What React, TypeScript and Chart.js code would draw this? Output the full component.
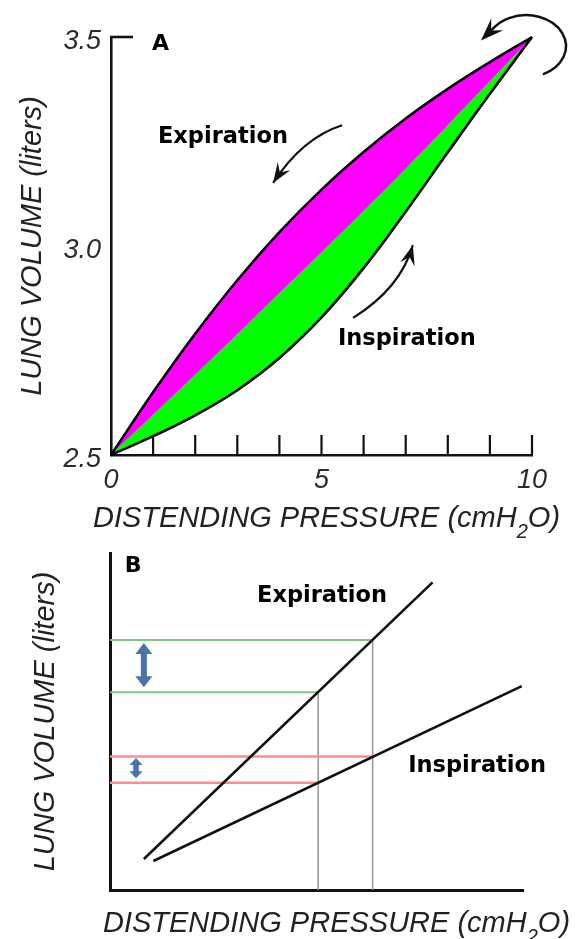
import React, { useEffect, useRef } from 'react';
import { Chart, registerables } from 'chart.js';

Chart.register(...registerables);

// ---------- Panel A data ----------
const pressureA = [0, 1, 2, 3, 4, 5, 6, 7, 8, 9, 10];
const expirationVolA = [2.5, 2.65, 2.79, 2.918, 3.033, 3.135, 3.225, 3.305, 3.376, 3.44, 3.5];
const boundaryVolA = [2.5, 2.596, 2.692, 2.789, 2.887, 2.985, 3.084, 3.185, 3.289, 3.394, 3.5];
const inspirationVolA = [2.5, 2.545, 2.595, 2.655, 2.732, 2.829, 2.947, 3.082, 3.224, 3.364, 3.5];
const yTickValuesA = [2.5, 3.0, 3.5];
const xLabelValuesA = [0, 5, 10];
const xMarkValuesA = [1, 2, 3, 4, 5, 6, 7, 8, 9, 10];

// ---------- Panel B data ----------
const expLinePressB = [0.82, 7.81];
const expLineVolB = [0.92, 9.13];
const inspLinePressB = [1.05, 9.97];
const inspLineVolB = [0.86, 6.05];
const pressuresB = [5.04, 6.36];
const expVolsB = [5.87, 7.42];
const inspVolsB = [3.18, 3.96];

const SANS = '"Liberation Sans", Arial, Helvetica, sans-serif';
const BOLD = '"DejaVu Sans", Verdana, sans-serif';

Chart.defaults.font.family = SANS;

function arrowHead(ctx: CanvasRenderingContext2D, tx: number, ty: number, dx: number, dy: number, len: number, hw: number) {
  const m = Math.hypot(dx, dy) || 1;
  const ux = dx / m, uy = dy / m;
  const nx = -uy, ny = ux;
  ctx.beginPath();
  ctx.moveTo(tx, ty);
  ctx.lineTo(tx - len * ux + hw * nx, ty - len * uy + hw * ny);
  ctx.lineTo(tx - 0.62 * len * ux, ty - 0.62 * len * uy);
  ctx.lineTo(tx - len * ux - hw * nx, ty - len * uy - hw * ny);
  ctx.closePath();
  ctx.fill();
}

function drawXTitle(ctx: CanvasRenderingContext2D, cx: number, baseline: number, size: number) {
  const a = 'DISTENDING PRESSURE (cmH';
  const s = '2';
  const b = 'O)';
  const big = `italic ${size}px ${SANS}`;
  const small = `italic ${Math.round(size * 0.7)}px ${SANS}`;
  ctx.font = big;
  const wa = ctx.measureText(a).width;
  const wb = ctx.measureText(b).width;
  ctx.font = small;
  const ws = ctx.measureText(s).width;
  let x = cx - (wa + ws + wb) / 2;
  ctx.fillStyle = '#222';
  ctx.textAlign = 'left';
  ctx.textBaseline = 'alphabetic';
  ctx.font = big;
  ctx.fillText(a, x, baseline);
  x += wa;
  ctx.font = small;
  ctx.fillText(s, x, baseline + size * 0.38);
  x += ws;
  ctx.font = big;
  ctx.fillText(b, x, baseline);
}

function boldLabel(ctx: CanvasRenderingContext2D, text: string, x: number, y: number, size: number) {
  ctx.font = `bold ${size}px ${BOLD}`;
  ctx.fillStyle = '#000';
  ctx.textAlign = 'left';
  ctx.textBaseline = 'alphabetic';
  ctx.fillText(text, x, y);
}

function curvedArrow(ctx: CanvasRenderingContext2D, xs: any, ys: any, s: number[], c: number[], e: number[]) {
  const sx = xs.getPixelForValue(s[0]), sy = ys.getPixelForValue(s[1]);
  const cxp = xs.getPixelForValue(c[0]), cyp = ys.getPixelForValue(c[1]);
  const ex = xs.getPixelForValue(e[0]), ey = ys.getPixelForValue(e[1]);
  ctx.beginPath();
  ctx.moveTo(sx, sy);
  ctx.quadraticCurveTo(cxp, cyp, ex, ey);
  ctx.stroke();
  arrowHead(ctx, ex, ey, ex - cxp, ey - cyp, 20, 7.5);
}

const annotA = {
  id: 'annotA',
  afterDraw(chart: any) {
    const { ctx, chartArea } = chart;
    const xs = chart.scales.x;
    const ys = chart.scales.y;
    ctx.save();
    ctx.strokeStyle = '#111';
    ctx.fillStyle = '#111';
    ctx.lineCap = 'butt';
    // inward tick marks on pressure axis
    ctx.lineWidth = 2.2;
    for (const p of xMarkValuesA) {
      const px = xs.getPixelForValue(p);
      ctx.beginPath();
      ctx.moveTo(px, chartArea.bottom);
      ctx.lineTo(px, chartArea.bottom - 20);
      ctx.stroke();
    }
    // inward tick at top of volume axis
    const yTop = ys.getPixelForValue(yTickValuesA[yTickValuesA.length - 1]);
    ctx.lineWidth = 2.6;
    ctx.beginPath();
    ctx.moveTo(chartArea.left - 1, yTop);
    ctx.lineTo(chartArea.left + 22, yTop);
    ctx.stroke();

    // direction arrows
    ctx.lineWidth = 2.2;
    curvedArrow(ctx, xs, ys, [5.49, 3.289], [4.55, 3.259], [3.85, 3.151]);
    curvedArrow(ctx, xs, ys, [5.75, 2.828], [6.88, 2.899], [7.17, 3.002]);

    // turning arrow at the top-right
    const ecx = xs.getPixelForValue(9.857);
    const ecy = ys.getPixelForValue(3.478);
    const rx = xs.getPixelForValue(9.857 + 0.95) - ecx;
    const ry = ys.getPixelForValue(3.478) - ys.getPixelForValue(3.478 + 0.0742);
    const a0 = (65 * Math.PI) / 180;
    const a1 = (-142 * Math.PI) / 180;
    ctx.lineWidth = 2.5;
    ctx.beginPath();
    ctx.ellipse(ecx, ecy, rx, ry, 0, a0, a1, true);
    const endX = ecx + rx * Math.cos(a1);
    const endY = ecy + ry * Math.sin(a1);
    const dX = rx * Math.sin(a1);
    const dY = -ry * Math.cos(a1);
    const dm = Math.hypot(dX, dY);
    const ux = dX / dm, uy = dY / dm;
    const tipX = endX + ux * 19;
    const tipY = endY + uy * 19;
    ctx.lineTo(endX + ux * 8, endY + uy * 8);
    ctx.stroke();
    arrowHead(ctx, tipX, tipY, ux, uy, 23, 8.5);

    // labels
    boldLabel(ctx, 'A', xs.getPixelForValue(0.974), ys.getPixelForValue(3.469), 22);
    boldLabel(ctx, 'Expiration', xs.getPixelForValue(1.116), ys.getPixelForValue(3.246), 22.5);
    boldLabel(ctx, 'Inspiration', xs.getPixelForValue(5.39), ys.getPixelForValue(2.763), 22.5);

    // pressure axis title with subscript
    drawXTitle(ctx, (chartArea.left + chartArea.right) / 2 + 5, chartArea.bottom + 71.5, 29);
    ctx.restore();
  },
};

function doubleArrow(ctx: CanvasRenderingContext2D, x: number, yTop: number, yBot: number, headLen: number, hw: number, sw: number) {
  ctx.beginPath();
  ctx.moveTo(x, yTop);
  ctx.lineTo(x + hw, yTop + headLen);
  ctx.lineTo(x + sw, yTop + headLen);
  ctx.lineTo(x + sw, yBot - headLen);
  ctx.lineTo(x + hw, yBot - headLen);
  ctx.lineTo(x, yBot);
  ctx.lineTo(x - hw, yBot - headLen);
  ctx.lineTo(x - sw, yBot - headLen);
  ctx.lineTo(x - sw, yTop + headLen);
  ctx.lineTo(x - hw, yTop + headLen);
  ctx.closePath();
  ctx.fill();
}

const annotB = {
  id: 'annotB',
  afterDraw(chart: any) {
    const { ctx, chartArea } = chart;
    const xs = chart.scales.x;
    const ys = chart.scales.y;
    ctx.save();
    ctx.fillStyle = '#4a74a8';
    doubleArrow(ctx, xs.getPixelForValue(0.82), ys.getPixelForValue(expVolsB[1]) + 3, ys.getPixelForValue(expVolsB[0]) - 5, 11, 8.5, 3);
    doubleArrow(ctx, xs.getPixelForValue(0.63), ys.getPixelForValue(inspVolsB[1]) + 1.5, ys.getPixelForValue(inspVolsB[0]) - 4.5, 7, 6.5, 2.8);

    boldLabel(ctx, 'B', xs.getPixelForValue(0.36), ys.getPixelForValue(9.44), 22);
    boldLabel(ctx, 'Expiration', xs.getPixelForValue(3.56), ys.getPixelForValue(8.55), 22.5);
    boldLabel(ctx, 'Inspiration', xs.getPixelForValue(7.22), ys.getPixelForValue(3.51), 22.5);

    drawXTitle(ctx, (chartArea.left + chartArea.right) / 2 + 20, chartArea.bottom + 41.7, 29);
    ctx.restore();
  },
};

const tickFont = { family: SANS, style: 'italic' as const, size: 27 };
const titleFont = { family: SANS, style: 'italic' as const, size: 29 };

export default function App() {
  const refA = useRef<HTMLCanvasElement>(null);
  const refB = useRef<HTMLCanvasElement>(null);

  useEffect(() => {
    if (!refA.current || !refB.current) return;
    const line = (xsArr: number[], ysArr: number[]) => xsArr.map((x, i) => ({ x, y: ysArr[i] }));

    const chartA = new Chart(refA.current, {
      type: 'line',
      data: {
        datasets: [
          {
            label: 'Expiration',
            data: line(pressureA, expirationVolA),
            borderColor: '#000',
            borderWidth: 2.6,
            backgroundColor: '#ff00ff',
            fill: '+1',
            pointRadius: 0,
            tension: 0.4,
            clip: false as any,
          },
          {
            label: 'Boundary',
            data: line(pressureA, boundaryVolA),
            borderColor: 'rgba(0,0,0,0)',
            borderWidth: 0,
            backgroundColor: '#00ff00',
            fill: '+1',
            pointRadius: 0,
            tension: 0.4,
            clip: false as any,
          },
          {
            label: 'Inspiration',
            data: line(pressureA, inspirationVolA),
            borderColor: '#000',
            borderWidth: 2.6,
            fill: false,
            pointRadius: 0,
            tension: 0.4,
            clip: false as any,
          },
        ],
      },
      options: {
        animation: false,
        responsive: false,
        maintainAspectRatio: false,
        layout: { padding: { top: 37, right: 53, bottom: 0, left: 0 } },
        plugins: {
          legend: { display: false },
          tooltip: { enabled: false },
          filler: { drawTime: 'beforeDatasetsDraw' } as any,
        },
        scales: {
          x: {
            type: 'linear',
            min: 0,
            max: 10,
            grid: { display: false, drawTicks: false },
            border: { display: true, color: '#111', width: 2.6 },
            afterBuildTicks: (s: any) => {
              s.ticks = xLabelValuesA.map((v) => ({ value: v }));
            },
            ticks: { padding: 9, color: '#2b2b2b', font: tickFont, maxRotation: 0, autoSkip: false },
            afterFit: (s: any) => {
              s.height = 85;
            },
          },
          y: {
            type: 'linear',
            min: 2.5,
            max: 3.5,
            grid: { display: false, drawTicks: false },
            border: { display: true, color: '#111', width: 2.6 },
            afterBuildTicks: (s: any) => {
              s.ticks = yTickValuesA.map((v) => ({ value: v }));
            },
            ticks: {
              padding: 10,
              labelOffset: 4,
              color: '#2b2b2b',
              font: tickFont,
              callback: (v: any) => Number(v).toFixed(1),
            },
            title: {
              display: true,
              text: 'LUNG VOLUME (liters)',
              color: '#222',
              font: titleFont,
              padding: { top: 16, bottom: 0 },
            },
            afterFit: (s: any) => {
              s.width = 111;
            },
          },
        },
      },
      plugins: [annotA],
    });

    const chartB = new Chart(refB.current, {
      type: 'line',
      data: {
        datasets: [
          {
            label: 'Expiration',
            data: line(expLinePressB, expLineVolB),
            borderColor: '#111',
            borderWidth: 2.6,
            pointRadius: 0,
            fill: false,
          },
          {
            label: 'Inspiration',
            data: line(inspLinePressB, inspLineVolB),
            borderColor: '#111',
            borderWidth: 2.6,
            pointRadius: 0,
            fill: false,
          },
          {
            label: 'Expiration volume high',
            data: [{ x: 0, y: expVolsB[1] }, { x: pressuresB[1], y: expVolsB[1] }],
            borderColor: '#86c486',
            borderWidth: 2,
            pointRadius: 0,
          },
          {
            label: 'Expiration volume low',
            data: [{ x: 0, y: expVolsB[0] }, { x: pressuresB[0], y: expVolsB[0] }],
            borderColor: '#86c486',
            borderWidth: 2,
            pointRadius: 0,
          },
          {
            label: 'Inspiration volume high',
            data: [{ x: 0, y: inspVolsB[1] }, { x: pressuresB[1], y: inspVolsB[1] }],
            borderColor: '#ff8c8c',
            borderWidth: 2.5,
            pointRadius: 0,
          },
          {
            label: 'Inspiration volume low',
            data: [{ x: 0, y: inspVolsB[0] }, { x: pressuresB[0], y: inspVolsB[0] }],
            borderColor: '#ff8c8c',
            borderWidth: 2.5,
            pointRadius: 0,
          },
          {
            label: 'Pressure high',
            data: [{ x: pressuresB[1], y: 0 }, { x: pressuresB[1], y: expVolsB[1] }],
            borderColor: '#9c9c9c',
            borderWidth: 1.6,
            pointRadius: 0,
          },
          {
            label: 'Pressure low',
            data: [{ x: pressuresB[0], y: 0 }, { x: pressuresB[0], y: expVolsB[0] }],
            borderColor: '#9c9c9c',
            borderWidth: 1.6,
            pointRadius: 0,
          },
        ],
      },
      options: {
        animation: false,
        responsive: false,
        maintainAspectRatio: false,
        layout: { padding: { top: 13, right: 62, bottom: 0, left: 0 } },
        plugins: { legend: { display: false }, tooltip: { enabled: false } },
        scales: {
          x: {
            type: 'linear',
            min: 0,
            max: 10,
            grid: { display: false, drawTicks: false },
            border: { display: true, color: '#111', width: 3 },
            ticks: { display: false },
            afterFit: (s: any) => {
              s.height = 49;
            },
          },
          y: {
            type: 'linear',
            min: 0,
            max: 10,
            grid: { display: false, drawTicks: false },
            border: { display: true, color: '#111', width: 3 },
            ticks: { display: false },
            title: {
              display: true,
              text: 'LUNG VOLUME (liters)',
              color: '#222',
              font: titleFont,
              padding: { top: 28.5, bottom: 0 },
            },
            afterFit: (s: any) => {
              s.width = 110;
            },
          },
        },
      },
      plugins: [annotB],
    });

    return () => {
      chartA.destroy();
      chartB.destroy();
    };
  }, []);

  return (
    <div style={{ position: 'absolute', left: 0, top: 0, width: 585, height: 939, background: '#fff', overflow: 'hidden' }}>
      <canvas ref={refA} width={585} height={540} style={{ display: 'block' }} />
      <canvas ref={refB} width={585} height={399} style={{ display: 'block' }} />
    </div>
  );
}
